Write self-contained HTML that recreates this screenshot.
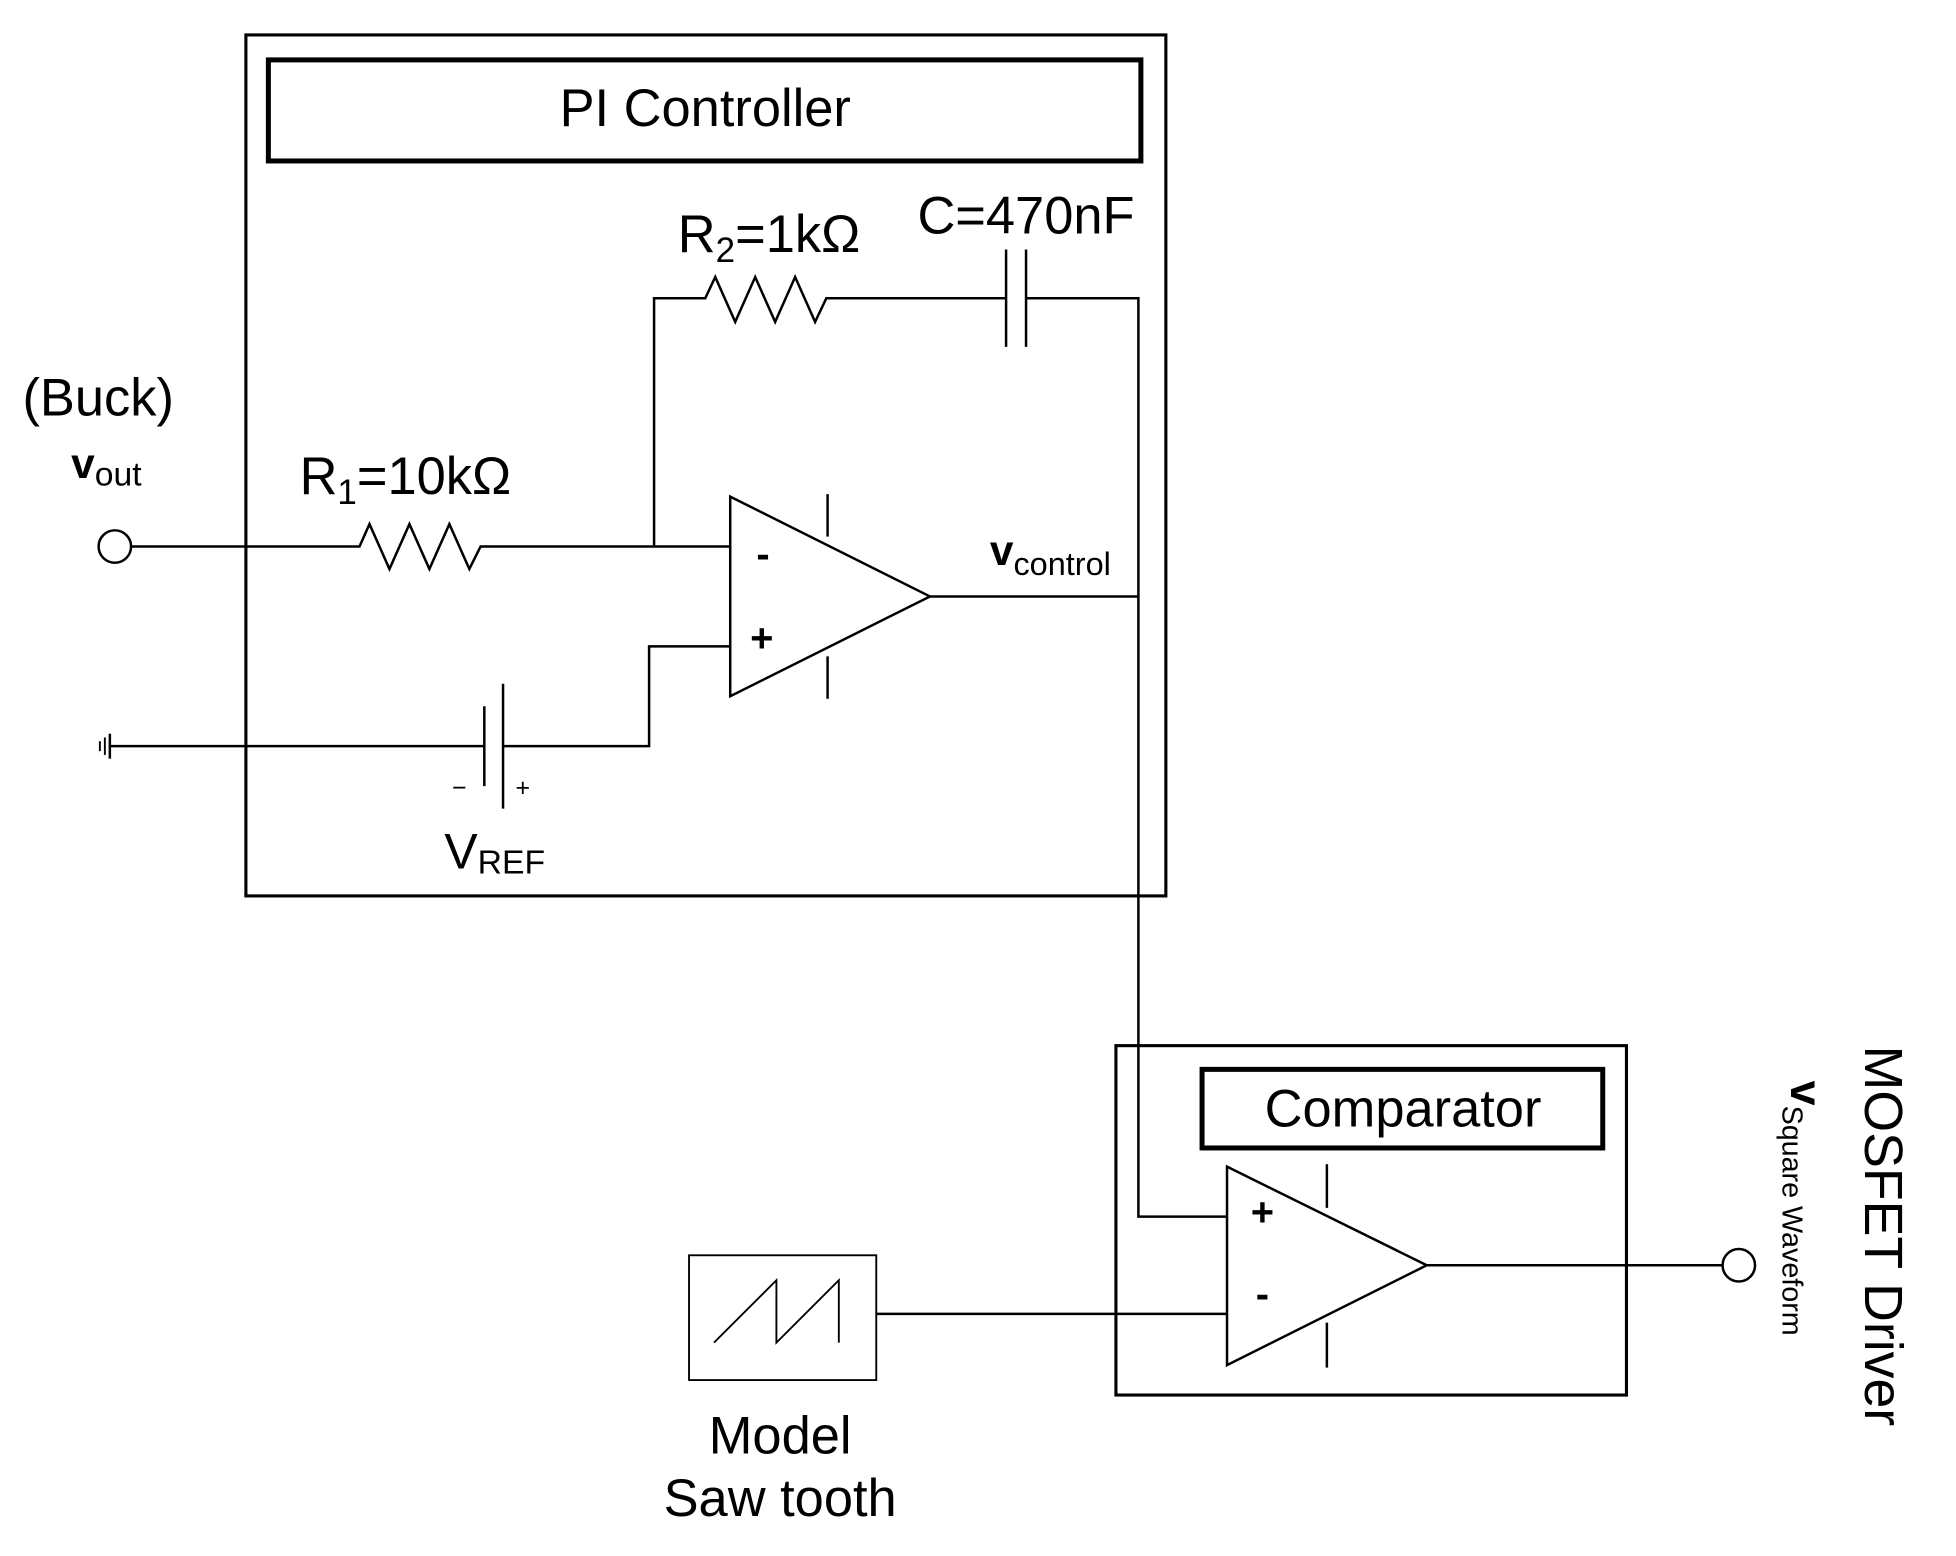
<!DOCTYPE html>
<html><head><meta charset="utf-8"><style>
html,body{margin:0;padding:0;background:#fff;}
svg{display:block;}
text{font-family:"Liberation Sans",sans-serif;fill:#000;}
</style></head><body>
<svg width="1956" height="1556" viewBox="0 0 1567 1247" preserveAspectRatio="none" xmlns="http://www.w3.org/2000/svg">
<g fill="none" stroke="#000" stroke-width="2">
<rect x="197" y="28" width="737" height="690" stroke-width="2.5"/>
<rect x="215" y="48" width="699" height="81" stroke-width="4"/>
<rect x="894" y="838" width="409" height="280" stroke-width="2.5"/>
<rect x="963" y="857" width="321" height="63" stroke-width="4"/>
<polyline points="524,437 524,239 565,239 573,222 589,258 605,222 621,258 637,222 653,258 662,239 806,239"/>
<line x1="806" y1="200" x2="806" y2="278"/>
<line x1="822" y1="200" x2="822" y2="278"/>
<polyline points="822,239 912,239 912,975 983,975"/>
<circle cx="92" cy="438" r="13"/>
<polyline points="105,438 288,438 296,420 312,456 328,420 344,456 360,420 376,456 385,438 585,438"/>
<polygon points="585,398 585,558 745,478"/>
<line x1="663" y1="396" x2="663" y2="430"/>
<line x1="663" y1="526" x2="663" y2="560"/>
<line x1="745" y1="478" x2="912" y2="478"/>
<polyline points="585,518 520,518 520,598 403,598"/>
<line x1="88" y1="598" x2="388" y2="598"/>
<line x1="388" y1="566" x2="388" y2="630"/>
<line x1="403" y1="548" x2="403" y2="648"/>
<line x1="88" y1="588" x2="88" y2="608"/>
<line x1="84" y1="591" x2="84" y2="605" stroke-width="1.5"/>
<line x1="80" y1="594" x2="80" y2="602" stroke-width="1.5"/>
<polygon points="983,935 983,1094 1143,1014"/>
<line x1="1063" y1="933" x2="1063" y2="968"/>
<line x1="1063" y1="1060" x2="1063" y2="1096"/>
<line x1="1143" y1="1014" x2="1380" y2="1014"/>
<circle cx="1393" cy="1014" r="13"/>
<rect x="552" y="1006" width="150" height="100" stroke-width="1.5"/>
<polyline points="572,1076 622,1026 622,1076 672,1026 672,1076" stroke-width="1.5"/>
<line x1="702" y1="1053" x2="983" y2="1053"/>
</g>
<text x="565" y="101" font-size="42" text-anchor="middle">PI Controller</text>
<text x="1124" y="903" font-size="42" text-anchor="middle">Comparator</text>
<text x="543" y="202" font-size="42">R<tspan font-size="28" dy="8">2</tspan><tspan dy="-8">=1kΩ</tspan></text>
<text x="735" y="187" font-size="42">C=470nF</text>
<text x="240" y="396" font-size="42">R<tspan font-size="28" dy="8">1</tspan><tspan dy="-8">=10kΩ</tspan></text>
<text x="18" y="333" font-size="42">(Buck)</text>
<text x="57" y="383" font-size="34" font-weight="bold">v<tspan font-size="27" font-weight="normal" dy="6">out</tspan></text>
<text x="793" y="453" font-size="34" font-weight="bold">v<tspan font-size="26" font-weight="normal" dy="8">control</tspan></text>
<text x="606" y="455" font-size="32" font-weight="bold">-</text>
<text x="601" y="522" font-size="32" font-weight="bold">+</text>
<text x="1002" y="982" font-size="32" font-weight="bold">+</text>
<text x="1006" y="1048" font-size="32" font-weight="bold">-</text>
<text x="362" y="638" font-size="20">−</text>
<text x="413" y="638" font-size="20">+</text>
<text x="356" y="696" font-size="40">V<tspan font-size="27" dy="4">REF</tspan></text>
<text x="625" y="1165" font-size="42" text-anchor="middle">Model</text>
<text x="625" y="1215" font-size="42" text-anchor="middle">Saw tooth</text>
<text transform="translate(1494,838) rotate(90)" font-size="43">MOSFET Driver</text>
<text transform="translate(1435,866) rotate(90)" font-size="36" font-weight="bold">v<tspan font-size="23" font-weight="normal" dy="7">Square Waveform</tspan></text>
</svg>
</body></html>
